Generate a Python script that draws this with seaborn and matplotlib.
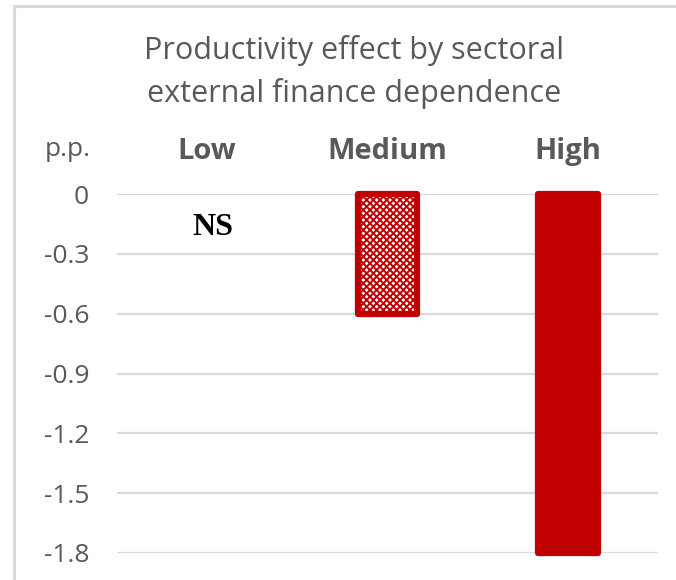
import matplotlib
matplotlib.use("Agg")
import matplotlib.pyplot as plt
from matplotlib.patches import Rectangle
import seaborn as sns
import pandas as pd

# Productivity effect (percentage points) by external finance dependence
categories = ["Low", "Medium", "High"]
effects = [0.0, -0.6, -1.8]
significant = [False, True, True]
hatched = [False, True, False]
yticks = [0, -0.3, -0.6, -0.9, -1.2, -1.5, -1.8]
ytick_labels = ["0", "-0.3", "-0.6", "-0.9", "-1.2", "-1.5", "-1.8"]

RED = "#C00000"
GREY_TXT = "#595959"
GRID = "#D9D9D9"

sns.set_theme(style="white")
plt.rcParams["font.family"] = ["Open Sans", "DejaVu Sans"]
plt.rcParams["hatch.linewidth"] = 1.4

df = pd.DataFrame({"category": categories, "effect": effects})

fig = plt.figure(figsize=(6.76, 5.80), dpi=100)
ax = fig.add_axes([117 / 676, 1 - 553 / 580, (658 - 117) / 676, (553 - 194) / 580])

sns.barplot(data=df, x="category", y="effect", order=categories,
            color=RED, saturation=1, width=0.33, ax=ax)

for patch, sig, hat in zip(ax.patches, significant, hatched):
    patch.set_edgecolor(RED)
    patch.set_linewidth(4.5)
    patch.set_joinstyle("round")
    patch.set_clip_on(False)
    if hat:
        patch.set_facecolor("white")
        patch.set_hatch("xxxxx")
    if not sig:
        patch.set_visible(False)

# Non-significant estimate marker
for i, (cat, sig) in enumerate(zip(categories, significant)):
    if not sig:
        ax.text(i + 0.03, -0.17, "NS", ha="center", va="center",
                fontsize=23, fontweight="bold", family="Liberation Serif",
                color="black")

ax.set_ylim(-1.8, 0)
ax.set_xlim(-0.5, 2.5)
ax.set_yticks(yticks)
ax.set_yticklabels(ytick_labels)
ax.yaxis.grid(True, color=GRID, linewidth=1.6)
ax.set_axisbelow(True)
for s in ax.spines.values():
    s.set_visible(False)

ax.xaxis.tick_top()
ax.tick_params(axis="x", length=0, pad=20, labelsize=21, labelcolor=GREY_TXT)
for lab in ax.get_xticklabels():
    lab.set_fontweight("bold")
ax.tick_params(axis="y", length=0, pad=20, labelsize=19, labelcolor=GREY_TXT)
ax.set_xlabel("")
ax.set_ylabel("")

fig.text(68 / 676, 1 - 150 / 580, "p.p.", ha="center", va="center",
         fontsize=19, color=GREY_TXT)

fig.text(354 / 676, 1 - 72 / 580,
         "Productivity effect by sectoral\nexternal finance dependence",
         ha="center", va="center", fontsize=22, color=GREY_TXT,
         linespacing=1.5)

# Chart area border
fig.patches.append(Rectangle((14 / 676, -0.1), 1.2, 1 - 6 / 580 + 0.1,
                             transform=fig.transFigure, fill=False,
                             edgecolor=GRID, linewidth=2.2))

fig.savefig("out.png", dpi=100)
